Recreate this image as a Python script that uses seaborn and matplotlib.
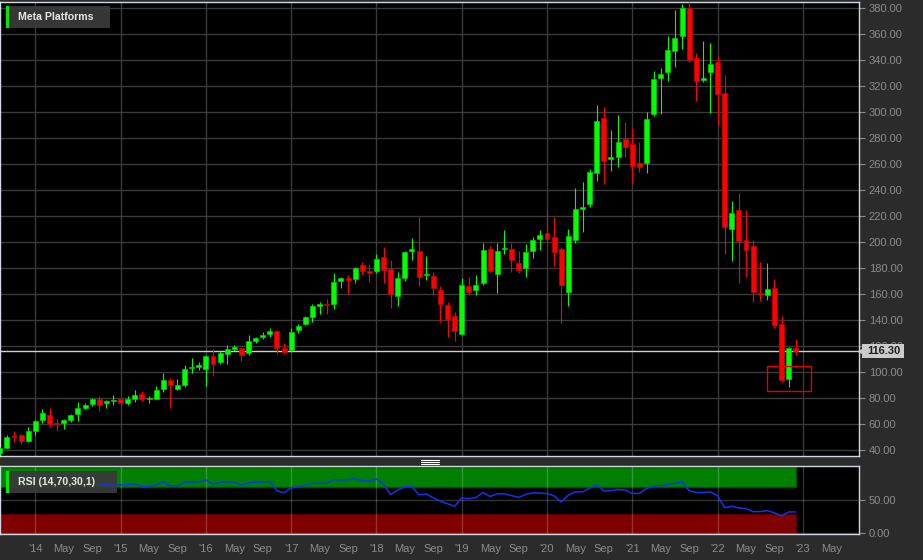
import numpy as np
import pandas as pd
import matplotlib
matplotlib.use("Agg")
import matplotlib.pyplot as plt
from matplotlib.patches import Rectangle
from matplotlib.lines import Line2D
import seaborn as sns

# monthly candles, Aug 2013 .. Dec 2022
months = pd.date_range("2013-08-01", "2022-12-01", freq="MS")
opens = [37.5, 41.8, 50.4, 51.2, 46.9, 54.9, 63.0, 67.0, 60.5, 61.0, 63.2, 67.6,
         72.2, 75.3, 79.0, 76.0, 77.8, 79.0, 76.2, 79.3, 82.8, 79.0, 79.5, 87.0,
         93.8, 86.9, 90.3, 103.2, 104.2, 102.0, 112.3, 108.0, 113.8, 118.0, 118.8, 114.6,
         124.0, 126.7, 129.0, 131.5, 118.8, 117.0, 132.3, 136.9, 142.5, 151.0, 152.0, 152.0,
         170.2, 172.5, 171.5, 182.3, 176.9, 177.9, 188.2, 179.2, 158.2, 172.5, 193.3, 193.3,
         174.4, 173.6, 163.0, 151.5, 143.0, 129.5, 166.2, 163.1, 168.2, 194.9, 175.6, 194.6,
         194.3, 184.1, 179.8, 193.3, 202.3, 206.9, 203.8, 194.6, 161.8, 201.8, 225.2, 229.0,
         253.1, 295.2, 263.6, 265.2, 279.2, 275.2, 260.5, 261.0, 298.5, 326.4, 330.5, 347.2,
         358.7, 380.2, 341.8, 324.6, 330.8, 338.7, 314.8, 210.0, 224.9, 201.5, 196.9, 160.5,
         159.2, 164.4, 136.9, 94.9, 118.7]
highs = [42.3, 51.6, 54.8, 52.1, 58.0, 63.4, 71.4, 72.6, 63.9, 64.2, 68.0, 76.7,
         76.0, 79.7, 81.2, 78.7, 82.2, 79.3, 81.4, 86.1, 85.6, 81.8, 89.4, 99.2,
         95.5, 95.0, 105.1, 110.7, 107.9, 112.8, 117.6, 116.0, 120.8, 121.1, 119.4, 128.3,
         126.7, 131.0, 133.8, 132.0, 122.5, 133.6, 137.2, 142.9, 152.3, 153.6, 156.5, 175.9,
         173.0, 174.6, 180.8, 184.3, 182.8, 190.7, 195.9, 186.1, 177.1, 192.7, 203.3, 219.0,
         189.0, 177.0, 165.9, 154.1, 146.0, 172.0, 173.3, 174.8, 199.0, 197.2, 198.9, 209.2,
         199.0, 193.0, 198.1, 203.8, 208.9, 224.3, 219.0, 196.4, 210.0, 241.3, 246.0, 256.0,
         305.0, 304.0, 286.0, 297.5, 292.0, 287.4, 276.7, 299.8, 331.8, 334.0, 358.5, 378.5,
         383.0, 384.3, 345.0, 354.4, 352.8, 343.0, 328.5, 231.5, 237.5, 224.6, 201.5, 184.3,
         183.6, 171.3, 143.0, 119.0, 125.4]
lows = [36.3, 41.5, 45.8, 44.8, 46.5, 51.9, 60.7, 58.0, 54.7, 56.3, 61.8, 62.2,
        71.6, 73.8, 70.3, 72.5, 74.4, 73.5, 74.4, 77.3, 77.9, 76.5, 79.1, 84.8,
        72.3, 85.9, 88.4, 99.6, 101.5, 89.4, 96.8, 105.8, 106.3, 115.9, 108.2, 112.8,
        122.1, 125.6, 126.9, 113.8, 114.0, 115.6, 130.3, 136.1, 138.7, 144.4, 145.0, 148.2,
        165.0, 160.2, 168.3, 175.0, 169.2, 175.8, 168.2, 149.2, 150.5, 170.2, 186.4, 166.2,
        170.8, 159.2, 138.7, 127.2, 123.6, 128.6, 159.2, 159.2, 167.0, 176.6, 161.0, 190.4,
        176.7, 176.0, 173.1, 187.9, 193.6, 200.1, 181.8, 137.5, 151.0, 199.0, 207.5, 227.0,
        247.2, 244.4, 254.8, 257.5, 265.2, 245.0, 254.1, 253.3, 296.9, 298.5, 323.6, 334.9,
        348.2, 338.2, 308.5, 323.3, 299.5, 290.0, 190.5, 185.6, 168.7, 173.3, 154.0, 154.8,
        155.4, 133.6, 92.6, 88.2, 113.0]
closes = [41.3, 50.2, 50.2, 47.0, 54.7, 62.6, 68.5, 60.2, 59.8, 63.3, 67.3, 72.7,
          74.8, 79.0, 75.0, 77.8, 78.0, 76.2, 79.6, 82.2, 79.0, 79.2, 85.8, 94.2,
          89.8, 89.9, 102.0, 104.0, 104.7, 112.2, 105.9, 114.3, 117.7, 118.8, 113.2, 124.0,
          126.2, 128.3, 131.3, 118.8, 115.4, 130.5, 135.6, 142.3, 150.5, 152.1, 151.3, 169.5,
          172.0, 171.0, 180.0, 177.7, 176.5, 186.9, 178.7, 160.2, 172.1, 192.0, 194.3, 173.0,
          175.3, 164.9, 152.3, 140.8, 131.5, 166.7, 161.8, 166.7, 193.6, 177.9, 193.0, 195.3,
          186.2, 178.5, 192.0, 201.5, 205.4, 202.0, 192.5, 166.9, 204.9, 225.4, 227.2, 253.8,
          293.3, 262.3, 265.6, 277.2, 273.3, 258.7, 257.9, 294.6, 325.4, 329.0, 348.0, 356.7,
          379.8, 340.0, 324.1, 326.4, 336.7, 313.6, 211.3, 222.5, 200.8, 193.8, 161.8, 159.8,
          163.6, 136.2, 93.8, 118.7, 116.3]

rsi_months = pd.date_range("2014-10-01", "2022-12-01", freq="MS")
rsi = [73.5, 73.5, 73, 73.5, 74, 75, 70.8, 71, 74, 78,
       72, 72.5, 77.5, 78, 78, 81, 74.6, 77.6, 78, 78,
       73, 76.8, 77.5, 78, 79, 64.6, 61.6, 69, 71, 73.5,
       76, 76, 76, 81.6, 81, 81.5, 83, 80, 79.5, 82.6,
       74.6, 59, 66, 70.7, 70.7, 58.6, 59.6, 54, 48.6, 45,
       41, 54, 52.6, 54.6, 62, 56, 60, 60, 57.3, 54.6,
       59, 61.6, 61, 60.5, 57, 47.6, 58, 63, 63, 68.5,
       73.7, 64.6, 64.6, 66.6, 65.6, 60.6, 60.6, 68, 72, 72,
       74.6, 76, 78, 65, 62, 62, 63, 57, 39, 41,
       38.6, 37.6, 33, 33, 34.5, 31, 26.5, 32.5, 32.5]
rsi_upper, rsi_lower = 70, 30

last_price = closes[-1]
title = "Meta Platforms"
rsi_title = "RSI (14,70,30,1)"

# red highlight drawn around the recent low
box_start, box_end = "2022-08-01", "2023-02-05"
box_low, box_high = 85.4, 104.6

price_ticks = list(range(40, 381, 20))
label_months = pd.date_range("2014-01-01", "2023-05-01", freq="4MS")


def midx(d):
    d = pd.Timestamp(d)
    return (d.year - 2014) * 12 + d.month - 1 + (d.day - 1) / 30.0


sns.set_theme(style="dark")
plt.rcParams["font.family"] = ["Liberation Sans", "DejaVu Sans"]

W, H = 923, 560
BG = "#2b2b2b"
GREY = "#8c8c8c"
BORDER = "#d2d8e0"
AXW = 859


def px(x0, y0, x1, y1):
    return [x0 / W, 1 - y1 / H, (x1 - x0) / W, (y1 - y0) / H]


fig = plt.figure(figsize=(W / 100, H / 100), dpi=100, facecolor=BG)
ax = fig.add_axes(px(0, 2, AXW, 456))
ax_r = fig.add_axes(px(0, 465.5, AXW, 534))

xl = (-4.97, 115.9)
x = np.array([midx(m) for m in months])
o = np.array(opens)
c = np.array(closes)
up = c >= o
fill = np.where(up, "#00ff00", "#ff0000")
edge = np.where(up, "#00cc00", "#cc0000")
bottom = np.minimum(o, c)
height = np.maximum(np.abs(c - o), 0.9)

# main price pane
ax.set_facecolor("black")
ax.vlines(x, lows, highs, colors=fill, lw=0.8, zorder=3)
ax.bar(x, height, bottom=bottom, width=0.7, color=fill, edgecolor=edge,
       linewidth=0.5, zorder=4)
ax.axhline(last_price, color="#cfcfcf", lw=1.0, zorder=2.5)
ax.add_patch(Rectangle((midx(box_start), box_low), midx(box_end) - midx(box_start),
                       box_high - box_low, fill=False, edgecolor="#e00000", lw=1.0, zorder=5))
ax.set_xlim(*xl)
ax.set_ylim(35.4, 384.6)
ax.set_yticks(price_ticks)
ax.set_yticklabels([f"{v:.2f}" for v in price_ticks])
ax.yaxis.tick_right()
ax.set_xticks([midx(f"{y}-01-01") for y in range(2014, 2024)])
ax.tick_params(axis="x", length=0, labelbottom=False)
ax.tick_params(axis="y", colors=GREY, labelcolor=GREY, labelsize=8, length=4,
               width=0.8, pad=3, direction="out")
ax.grid(True, color="#3b3b3b", lw=1.0)
ax.set_axisbelow(True)
for s in ax.spines.values():
    s.set_color(BORDER)
    s.set_linewidth(1.0)

# current price tag on the scale, covering the 120.00 label like the original
ytr = ax.get_yaxis_transform()
tag_h = 14 / 1.3 / 2
ax.add_patch(Rectangle((862 / AXW, last_price - tag_h), 42 / AXW, 2 * tag_h,
                       transform=ytr, fc="#cbcbcb", ec="none", clip_on=False, zorder=9))
ax.plot([1.0 + 2 / AXW], [last_price], marker="<", ms=4.5, color="#cbcbcb",
        transform=ytr, clip_on=False, zorder=9)
ax.text(884 / AXW, last_price, f"{last_price:.2f}", transform=ytr,
        ha="center", va="center", fontsize=8, fontweight="bold", color="#1e1e1e",
        clip_on=False, zorder=10)

# RSI pane
ax_r.set_facecolor("black")
rx = np.array([midx(m) for m in rsi_months])
band_x = [xl[0], rx[-1]]
ax_r.fill_between(band_x, rsi_upper, 100, color="#008000", edgecolor="#005200", lw=1.0, zorder=1)
ax_r.fill_between(band_x, 0, rsi_lower, color="#800000", edgecolor="#560000", lw=1.0, zorder=1)
rsi_df = pd.DataFrame({"m": rx, "rsi": rsi})
sns.lineplot(data=rsi_df, x="m", y="rsi", ax=ax_r, color="#1034f0", lw=1.1, zorder=6)
ax_r.set_xlim(*xl)
ax_r.set_ylim(-1, 103)
ax_r.set_xlabel("")
ax_r.set_ylabel("")
ax_r.yaxis.tick_right()
ax_r.set_yticks([0, 50])
ax_r.set_yticklabels(["0.00", "50.00"])
ax_r.set_xticks([midx(m) for m in label_months])
ax_r.set_xticklabels([f"'{m.strftime('%y')}" if m.month == 1 else m.strftime("%b")
                      for m in label_months])
ax_r.tick_params(colors=GREY, labelcolor=GREY, labelsize=8, length=4, width=0.8,
                 pad=3, direction="out")
ax_r.set_axisbelow(False)
ax_r.grid(False)
ax_r.yaxis.grid(True, color="white", alpha=0.2, lw=1.0)
for yr in range(2014, 2024):
    ax_r.axvline(midx(f"{yr}-01-01"), color="white", alpha=0.2, lw=1.0, zorder=2)
for s in ax_r.spines.values():
    s.set_color(BORDER)
    s.set_linewidth(1.0)

# legend tags
for a, (x0, y0, x1, y1), txt, z in [(ax, (6, 6, 110, 28), title, 7),
                                     (ax_r, (6, 471, 117, 493), rsi_title, 5)]:
    a.add_patch(Rectangle(px(x0, y0, x1, y1)[:2], (x1 - x0) / W, (y1 - y0) / H,
                          transform=fig.transFigure, fc="#3a3a3a", ec="none",
                          alpha=0.95, zorder=z))
    a.add_patch(Rectangle(px(x0, y0, x0 + 3, y1)[:2], 3 / W, (y1 - y0) / H,
                          transform=fig.transFigure, fc="#00e600", ec="none", zorder=z + 0.1))
    a.text(18 / W, 1 - (y0 + y1) / 2 / H, txt, transform=fig.transFigure, ha="left",
           va="center", fontsize=7.6, fontweight="bold", color="#e6e6e6", zorder=z + 0.2)

# pane splitter handle
for yy in (459.5, 461.5, 463.5):
    fig.add_artist(Line2D([421 / W, 439 / W], [1 - yy / H, 1 - yy / H],
                          color="white", lw=0.8, transform=fig.transFigure))

fig.savefig("out.png", dpi=100, facecolor=BG)
